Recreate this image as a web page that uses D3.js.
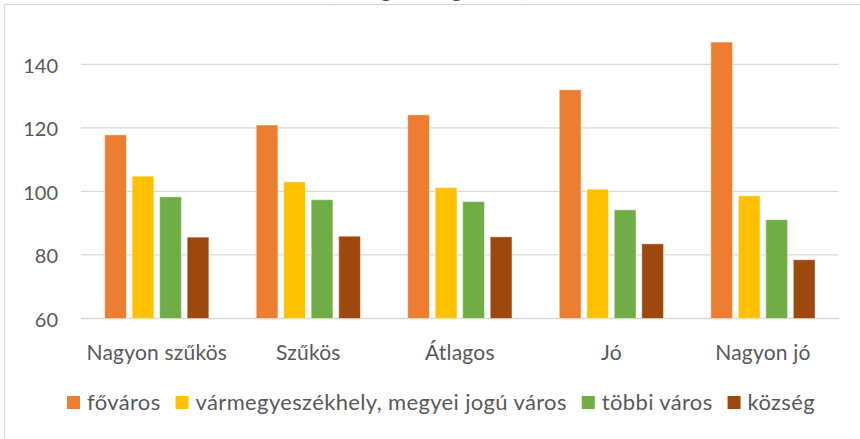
<!DOCTYPE html>
<html>
<head>
<meta charset="utf-8">
<script src="https://cdn.jsdelivr.net/npm/d3@7"></script>
<style>
  html, body { margin: 0; padding: 0; background: #fff; }
  svg { display: block; }
  text { font-family: Lato, "Open Sans", sans-serif; }
</style>
</head>
<body>
<svg id="chart" width="860" height="439"></svg>
<script>
// Index values by housing situation and settlement type
const categories = ["Nagyon szűkös", "Szűkös", "Átlagos", "Jó", "Nagyon jó"];
const seriesNames = ["főváros", "vármegyeszékhely, megyei jogú város", "többi város", "község"];
const seriesColors = ["#ED7D31", "#FFC000", "#70AD47", "#9E480E"];
const fovaros = [117.8, 120.9, 124.1, 132.0, 147.0];
const varmegyeszekhely = [104.8, 103.0, 101.2, 100.7, 98.6];
const tobbiVaros = [98.3, 97.4, 96.8, 94.2, 91.1];
const kozseg = [85.6, 85.9, 85.7, 83.5, 78.5];
const yTicks = [60, 80, 100, 120, 140];
const titleText = "(országos átlag = 100)";

const seriesValues = [fovaros, varmegyeszekhely, tobbiVaros, kozseg];

const svg = d3.select("#chart");
const W = 860, H = 439;
const plot = { left: 81, right: 838.7, top: 0.8, bottom: 318.5 };

// chart frame
svg.append("rect")
  .attr("x", 4.5).attr("y", 4.5)
  .attr("width", W + 20).attr("height", H + 20)
  .attr("fill", "#fff")
  .attr("stroke", "#d9d9d9").attr("stroke-width", 1.3);

// title (sits mostly above the visible area)
svg.append("text")
  .attr("x", 427).attr("y", -3)
  .attr("text-anchor", "middle")
  .attr("fill", "#44546A")
  .attr("font-size", 21)
  .text(titleText);

const y = d3.scaleLinear().domain([60, 160]).range([plot.bottom, plot.top]);
const x0 = d3.scaleBand().domain(categories).range([plot.left, plot.right]).padding(0);
const x1 = d3.scaleBand().domain(seriesNames).range([0, x0.bandwidth()])
  .paddingInner(0.21).paddingOuter(0.86);

// gridlines
svg.append("g")
  .selectAll("line")
  .data(yTicks)
  .join("line")
  .attr("x1", plot.left).attr("x2", plot.right)
  .attr("y1", d => y(d)).attr("y2", d => y(d))
  .attr("stroke", "#d9d9d9").attr("stroke-width", 1.3);

// y axis labels
const yAxis = d3.axisLeft(y).tickValues(yTicks).tickSize(0).tickPadding(0);
const yg = svg.append("g").attr("transform", `translate(58,0)`).call(yAxis);
yg.select(".domain").remove();
yg.selectAll("text")
  .attr("font-family", "Lato, sans-serif")
  .attr("font-size", 20)
  .attr("fill", "#595959")
  .attr("dy", "0.4em");

// bars
const groups = svg.append("g")
  .selectAll("g")
  .data(categories)
  .join("g")
  .attr("transform", d => `translate(${x0(d)},0)`);

groups.selectAll("rect")
  .data((c, i) => seriesNames.map((s, j) => ({ s, j, v: seriesValues[j][i] })))
  .join("rect")
  .attr("x", d => x1(d.s))
  .attr("width", x1.bandwidth())
  .attr("y", d => y(d.v))
  .attr("height", d => y(60) - y(d.v))
  .attr("fill", d => seriesColors[d.j])
  .attr("stroke", "#ffffff").attr("stroke-opacity", 0.45).attr("stroke-width", 1);

// category axis labels
const xAxis = d3.axisBottom(x0).tickSize(0).tickPadding(0);
const xg = svg.append("g").attr("transform", `translate(0,352)`).call(xAxis);
xg.select(".domain").remove();
xg.selectAll("text")
  .attr("font-family", "Lato, sans-serif")
  .attr("font-size", 21)
  .attr("letter-spacing", 0.2)
  .attr("fill", "#595959")
  .attr("dy", "0.36em");

// legend
const legend = svg.append("g");
const items = legend.selectAll("g")
  .data(seriesNames)
  .join("g");
items.append("rect")
  .attr("width", 13).attr("height", 13)
  .attr("y", 396)
  .attr("fill", (d, i) => seriesColors[i]);
items.append("text")
  .attr("x", 20).attr("y", 402.5)
  .attr("dy", "0.36em")
  .attr("font-size", 22)
  .attr("letter-spacing", 0.35)
  .attr("fill", "#595959")
  .text(d => d);

const widths = [];
items.each(function() { widths.push(20 + this.querySelector("text").getComputedTextLength()); });
const gap = 15;
const total = d3.sum(widths) + gap * (widths.length - 1);
let cx = 441 - total / 2;
items.each(function(d, i) {
  d3.select(this).attr("transform", `translate(${cx},0)`);
  cx += widths[i] + gap;
});
</script>
</body>
</html>
